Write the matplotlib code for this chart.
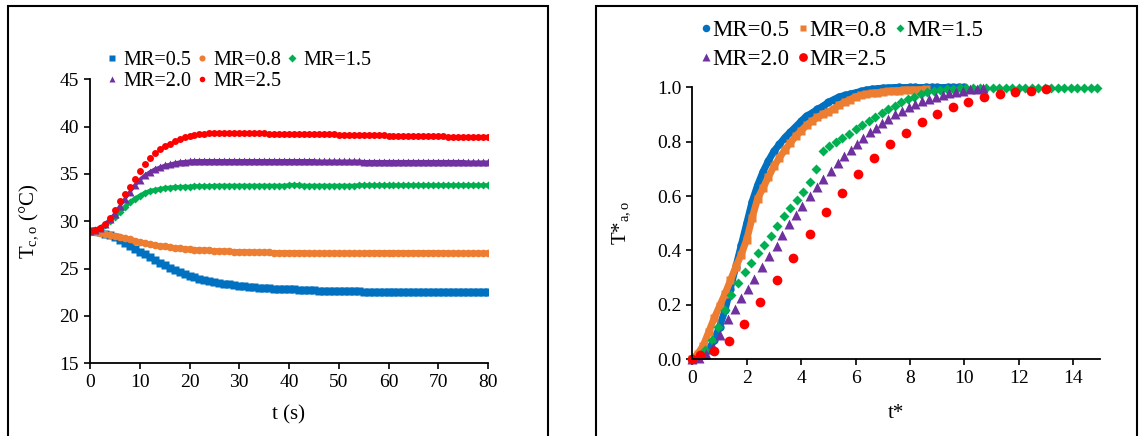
import numpy as np
import matplotlib
matplotlib.use('Agg')
import matplotlib.pyplot as plt
from matplotlib.patches import Rectangle

matplotlib.rcParams['font.family'] = 'Liberation Serif'
matplotlib.rcParams['mathtext.fontset'] = 'custom'
matplotlib.rcParams['mathtext.rm'] = 'Liberation Serif'
matplotlib.rcParams['mathtext.it'] = 'Liberation Serif:italic'

labels = ['MR=0.5', 'MR=0.8', 'MR=1.5', 'MR=2.0', 'MR=2.5']
colors = ['#0070C0', '#ED7D31', '#00B050', '#7030A0', '#FF0000']

# ---- left panel: outlet temperature vs time (1 s samples) ----
t_s = list(range(81))
tco_05 = [29.0, 28.95, 28.85, 28.7, 28.5, 28.3, 28.0, 27.7, 27.4, 27.1,
          26.8, 26.5, 26.2, 25.9, 25.6, 25.35, 25.1, 24.85, 24.65, 24.45,
          24.25, 24.1, 23.95, 23.8, 23.7, 23.6, 23.5, 23.4, 23.35, 23.3,
          23.2, 23.15, 23.1, 23.05, 23.0, 22.97, 22.94, 22.9, 22.87, 22.85,
          22.82, 22.8, 22.78, 22.75, 22.72, 22.7, 22.68, 22.65, 22.62, 22.6,
          22.6, 22.6, 22.6, 22.6, 22.6, 22.58, 22.58, 22.55, 22.55, 22.55,
          22.55, 22.55, 22.55, 22.55, 22.55, 22.55, 22.55, 22.55, 22.55, 22.55,
          22.55, 22.55, 22.55, 22.55, 22.55, 22.55, 22.55, 22.55, 22.55, 22.55, 22.55]
tco_08 = [28.9, 28.85, 28.75, 28.65, 28.55, 28.45, 28.3, 28.2, 28.1, 27.95,
          27.85, 27.7, 27.6, 27.5, 27.4, 27.35, 27.3, 27.2, 27.15, 27.1,
          27.05, 27.0, 27.0, 26.95, 26.95, 26.9, 26.9, 26.85, 26.85, 26.8,
          26.8, 26.8, 26.8, 26.75, 26.75, 26.75, 26.75, 26.7, 26.7, 26.7,
          26.7, 26.7, 26.7, 26.7, 26.65, 26.65, 26.65, 26.65, 26.65, 26.65,
          26.65, 26.65, 26.65, 26.65, 26.65, 26.65, 26.7, 26.7, 26.7, 26.7,
          26.7, 26.7, 26.7, 26.7, 26.7, 26.7, 26.7, 26.7, 26.7, 26.7,
          26.7, 26.7, 26.65, 26.65, 26.65, 26.65, 26.65, 26.65, 26.65, 26.65, 26.65]
tco_15 = [29.0, 29.1, 29.3, 29.6, 30.0, 30.5, 31.0, 31.5, 32.0, 32.4,
          32.7, 33.0, 33.2, 33.3, 33.4, 33.5, 33.55, 33.6, 33.6, 33.65,
          33.65, 33.7, 33.7, 33.7, 33.7, 33.75, 33.75, 33.75, 33.75, 33.75,
          33.75, 33.75, 33.75, 33.75, 33.75, 33.75, 33.75, 33.75, 33.75, 33.75,
          33.8, 33.85, 33.8, 33.75, 33.75, 33.75, 33.75, 33.75, 33.75, 33.75,
          33.75, 33.75, 33.75, 33.75, 33.8, 33.8, 33.8, 33.8, 33.8, 33.8,
          33.8, 33.8, 33.8, 33.8, 33.8, 33.8, 33.8, 33.8, 33.8, 33.8,
          33.8, 33.8, 33.8, 33.8, 33.8, 33.8, 33.8, 33.8, 33.8, 33.8, 33.8]
tco_20 = [29.0, 29.1, 29.3, 29.7, 30.2, 30.8, 31.6, 32.35, 33.1, 33.8,
          34.4, 34.85, 35.2, 35.5, 35.7, 35.9, 36.0, 36.15, 36.25, 36.3,
          36.35, 36.4, 36.4, 36.4, 36.4, 36.4, 36.4, 36.4, 36.4, 36.4,
          36.4, 36.4, 36.4, 36.4, 36.4, 36.4, 36.4, 36.4, 36.4, 36.4,
          36.4, 36.4, 36.4, 36.4, 36.4, 36.4, 36.35, 36.35, 36.35, 36.35,
          36.35, 36.35, 36.35, 36.35, 36.35, 36.3, 36.3, 36.3, 36.3, 36.3,
          36.3, 36.3, 36.3, 36.3, 36.3, 36.3, 36.3, 36.3, 36.3, 36.3,
          36.3, 36.3, 36.3, 36.3, 36.3, 36.3, 36.25, 36.25, 36.25, 36.25, 36.25]
tco_25 = [29.0, 29.1, 29.3, 29.7, 30.4, 31.2, 32.1, 32.85, 33.65, 34.5,
          35.3, 36.05, 36.7, 37.25, 37.6, 37.95, 38.2, 38.5, 38.7, 38.9,
          39.0, 39.1, 39.2, 39.25, 39.3, 39.3, 39.3, 39.3, 39.3, 39.3,
          39.3, 39.3, 39.3, 39.3, 39.3, 39.3, 39.25, 39.25, 39.25, 39.25,
          39.2, 39.2, 39.2, 39.2, 39.2, 39.2, 39.2, 39.2, 39.2, 39.2,
          39.15, 39.1, 39.1, 39.1, 39.1, 39.1, 39.1, 39.1, 39.1, 39.1,
          39.05, 39.0, 39.0, 39.0, 39.0, 39.0, 39.0, 39.0, 39.0, 39.0,
          39.0, 39.0, 38.95, 38.9, 38.9, 38.9, 38.9, 38.9, 38.9, 38.9, 38.9]

# ---- right panel: dimensionless temperature vs dimensionless time ----
ts_05 = [0.0, 0.2, 0.4, 0.6, 0.8, 1.0, 1.2, 1.4, 1.6, 1.8, 2.0, 2.2, 2.4, 2.6, 2.8,
         3.0, 3.2, 3.4, 3.6, 3.8, 4.0, 4.2, 4.4, 4.6, 4.8, 5.0, 5.2, 5.4, 5.6, 5.8,
         6.0, 6.2, 6.4, 6.6, 6.8, 7.0, 7.2, 7.4, 7.6, 7.8, 8.0, 8.2, 8.4, 8.6, 8.8,
         9.0, 9.2, 9.4, 9.6, 9.8, 10.0]
tstar_05 = [0.0, 0.005, 0.015, 0.035, 0.07, 0.12, 0.18, 0.26, 0.34, 0.42, 0.50, 0.58,
            0.64, 0.69, 0.73, 0.765, 0.79, 0.815, 0.835, 0.855, 0.875, 0.895, 0.905,
            0.92, 0.93, 0.945, 0.955, 0.965, 0.97, 0.975, 0.98, 0.985, 0.99, 0.993,
            0.995, 0.997, 0.998, 0.999, 1.0, 0.999, 1.0, 1.0, 0.999, 1.0, 1.0, 1.0,
            0.999, 1.0, 1.0, 1.0, 1.0]
ts_08 = [0.0, 0.2, 0.4, 0.6, 0.8, 1.0, 1.2, 1.4, 1.6, 1.8, 2.0, 2.2, 2.4, 2.6, 2.8,
         3.0, 3.2, 3.4, 3.6, 3.8, 4.0, 4.2, 4.4, 4.6, 4.8, 5.0, 5.2, 5.4, 5.6, 5.8,
         6.0, 6.2, 6.4, 6.6, 6.8, 7.0, 7.2, 7.4, 7.6, 7.8, 8.0, 8.2, 8.4, 8.6]
tstar_08 = [0.0, 0.02, 0.05, 0.10, 0.15, 0.195, 0.24, 0.29, 0.34, 0.385, 0.44, 0.52,
            0.59, 0.63, 0.67, 0.71, 0.74, 0.77, 0.795, 0.82, 0.84, 0.86, 0.875, 0.89,
            0.90, 0.91, 0.92, 0.935, 0.945, 0.955, 0.965, 0.97, 0.975, 0.978, 0.98,
            0.983, 0.985, 0.987, 0.988, 0.99, 0.99, 0.99, 0.991, 0.992]
ts_15 = [0.0, 0.24, 0.48, 0.72, 0.96, 1.2, 1.44, 1.68, 1.92, 2.16, 2.4, 2.64, 2.88,
         3.12, 3.36, 3.6, 3.84, 4.08, 4.32, 4.56, 4.8, 5.04, 5.28, 5.52, 5.76, 6.0,
         6.24, 6.48, 6.72, 6.96, 7.2, 7.44, 7.68, 7.92, 8.16, 8.4, 8.64, 8.88, 9.12,
         9.36, 9.6, 9.84, 10.08, 10.32, 10.56, 10.8, 11.04, 11.28, 11.52, 11.76, 12.0,
         12.24, 12.48, 12.72, 12.96, 13.2, 13.44, 13.68, 13.92, 14.16, 14.4, 14.64, 14.88]
tstar_15 = [0.0, 0.01, 0.035, 0.07, 0.12, 0.18, 0.235, 0.28, 0.32, 0.355, 0.39, 0.42,
            0.455, 0.49, 0.525, 0.555, 0.585, 0.615, 0.65, 0.70, 0.765, 0.785, 0.80,
            0.815, 0.83, 0.845, 0.86, 0.875, 0.89, 0.905, 0.92, 0.933, 0.945, 0.956,
            0.966, 0.974, 0.981, 0.986, 0.99, 0.993, 0.995, 0.997, 0.997, 0.998, 0.997,
            0.998, 0.998, 0.997, 0.998, 0.998, 0.998, 0.997, 0.998, 0.998, 0.998, 0.997,
            0.998, 0.998, 0.997, 0.998, 0.998, 0.997, 0.997]
ts_20 = [0.0, 0.25, 0.5, 0.75, 1.0, 1.3, 1.57, 1.79, 2.06, 2.28, 2.58, 2.83, 3.10,
         3.31, 3.57, 3.82, 4.05, 4.31, 4.58, 4.82, 5.09, 5.35, 5.57, 5.82, 6.05, 6.29,
         6.54, 6.76, 6.97, 7.2, 7.45, 7.7, 7.95, 8.2, 8.45, 8.7, 8.95, 9.2, 9.45, 9.7,
         9.95, 10.2, 10.45, 10.7]
tstar_20 = [0.0, 0.005, 0.02, 0.045, 0.09, 0.147, 0.184, 0.224, 0.257, 0.297, 0.339,
            0.381, 0.418, 0.457, 0.496, 0.531, 0.564, 0.602, 0.635, 0.664, 0.694, 0.721,
            0.746, 0.770, 0.792, 0.814, 0.834, 0.852, 0.868, 0.885, 0.9, 0.913, 0.926,
            0.938, 0.948, 0.957, 0.965, 0.972, 0.978, 0.984, 0.988, 0.992, 0.995, 0.997]
ts_25 = [0.0, 0.28, 0.81, 1.36, 1.91, 2.50, 3.13, 3.72, 4.34, 4.93, 5.50, 6.09, 6.69,
         7.27, 7.86, 8.43, 9.0, 9.6, 10.12, 10.72, 11.31, 11.86, 12.44, 12.99]
tstar_25 = [0.0, 0.016, 0.032, 0.067, 0.129, 0.21, 0.29, 0.374, 0.461, 0.54, 0.61,
            0.68, 0.74, 0.79, 0.833, 0.871, 0.902, 0.926, 0.947, 0.964, 0.975, 0.984,
            0.988, 0.994]

fig = plt.figure(figsize=(11.39, 4.36), dpi=100)
ax1 = fig.add_axes([90/1139, 72.7/436, 398/1139, 284/436])
ax2 = fig.add_axes([692.3/1139, 76.7/436, 408/1139, 272/436])

# panel frames (bottom edge is cut off in the reference)
for x0, x1 in [(8, 548), (596, 1137)]:
    fig.add_artist(Rectangle((x0/1139, -0.05), (x1-x0)/1139, (430/436)+0.05,
                             transform=fig.transFigure, fill=False, ec='black', lw=1.5))

# dense logger series look like thick bands -> markers plus a line of the same colour
left_series = [tco_05, tco_08, tco_15, tco_20, tco_25]
left_marks = [('s', 5.5, 3.5), ('o', 5.5, 3.5), ('D', 4.5, 3.0), ('^', 6, 2.5), ('o', 5, 0)]
hl = []
for y, (m, ms, lw), c, lab in zip(left_series, left_marks, colors, labels):
    if lw:
        ax1.plot(t_s, y, ls='-', lw=lw, color=c)
    h, = ax1.plot(t_s, y, ls='none', marker=m, ms=ms, color=c, mec='none', label=lab)
    hl.append(h)

right_series = [(ts_05, tstar_05), (ts_08, tstar_08), (ts_15, tstar_15),
                (ts_20, tstar_20), (ts_25, tstar_25)]
right_marks = [('o', 6, 5), ('s', 5.5, 5), ('D', 5, 0), ('^', 7, 0), ('o', 7, 0)]
hr = []
for (x, y), (m, ms, lw), c, lab in zip(right_series, right_marks, colors, labels):
    if lw:
        ax2.plot(x, y, ls='-', lw=lw, color=c, clip_on=False, solid_capstyle='round')
    h, = ax2.plot(x, y, ls='none', marker=m, ms=ms, color=c, mec='none', label=lab,
                  clip_on=False)
    hr.append(h)

ax1.set_xlim(0, 80)
ax1.set_ylim(15, 45)
ax1.set_xticks(range(0, 81, 10))
ax1.set_yticks(range(15, 46, 5))
ax2.set_xlim(0, 15)
ax2.set_ylim(0, 1.0)
ax2.set_xticks(range(0, 15, 2))
ax2.set_yticks([0.0, 0.2, 0.4, 0.6, 0.8, 1.0])
ax2.set_yticklabels(['0.0', '0.2', '0.4', '0.6', '0.8', '1.0'])

for ax in (ax1, ax2):
    for s in ('top', 'right'):
        ax.spines[s].set_visible(False)
    for s in ('left', 'bottom'):
        ax.spines[s].set_linewidth(1.3)
    ax.tick_params(direction='out', length=4, width=1.2, labelsize=14, pad=4)

ax1.set_xlabel('t (s)', fontsize=15)
ax1.set_ylabel(r'T$_\mathregular{c,o}$ (°C)', fontsize=15)
ax1.xaxis.set_label_coords(0.5, -0.148)
ax1.yaxis.set_label_coords(-0.126, 0.5)
ax2.set_xlabel('t*', fontsize=15)
ax2.set_ylabel(r'T*$_\mathregular{a,o}$', fontsize=15)
ax2.xaxis.set_label_coords(0.5, -0.165)
ax2.yaxis.set_label_coords(-0.147, 0.5)

order = [0, 3, 1, 4, 2]
fig.legend([hl[i] for i in order], [labels[i] for i in order], ncol=3,
           loc='upper left', bbox_to_anchor=(107/1139, 1 - 51/436), frameon=False,
           fontsize=14.5, handlelength=0.5, handletextpad=0.3, columnspacing=0.3,
           labelspacing=0.1, borderpad=0, borderaxespad=0, markerscale=0.8)
fig.legend([hr[i] for i in order], [labels[i] for i in order], ncol=3,
           loc='upper left', bbox_to_anchor=(703/1139, 1 - 20/436), frameon=False,
           fontsize=16.5, handlelength=0.3, handletextpad=0.12, columnspacing=0.45,
           labelspacing=0.35, borderpad=0, borderaxespad=0, markerscale=0.9)

fig.savefig('out.png', dpi=100, facecolor='white')
